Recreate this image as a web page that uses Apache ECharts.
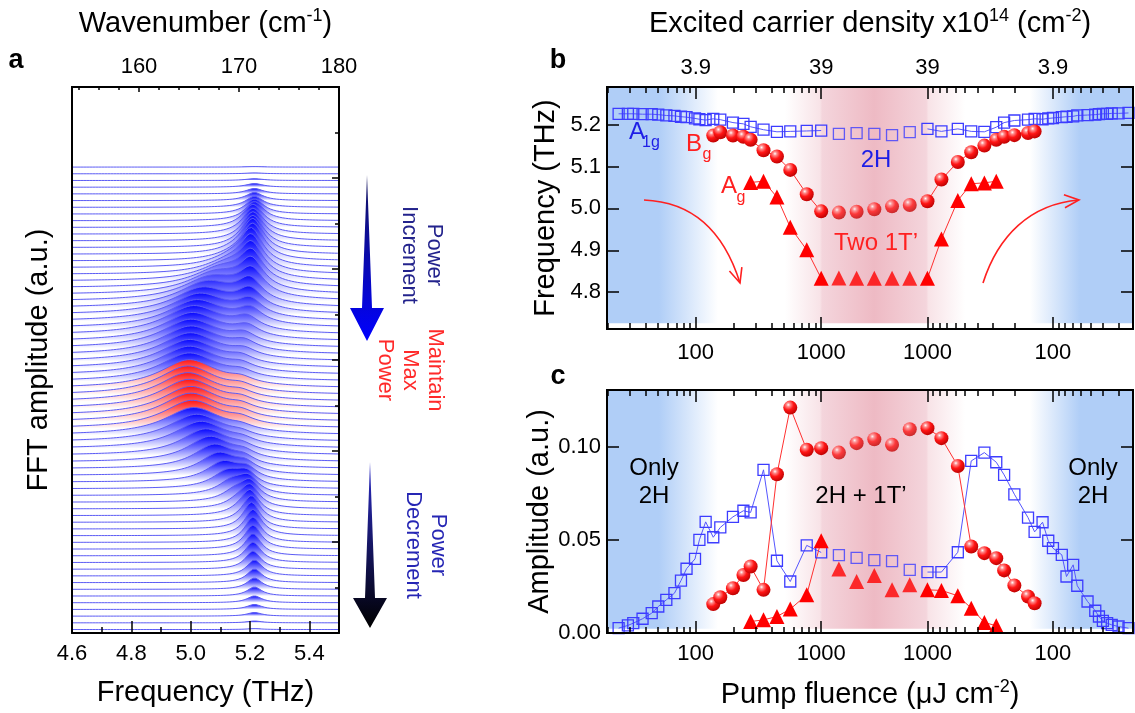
<!DOCTYPE html>
<html>
<head>
<meta charset="utf-8">
<script src="https://cdn.jsdelivr.net/npm/echarts@6/dist/echarts.min.js"></script>
<style>
  html, body { margin: 0; padding: 0; background: #fff; }
  #chart { width: 1135px; height: 713px; }
</style>
</head>
<body>
<div id="chart"></div>
<script>
// ---------- panel a: waterfall, one entry per trace (top trace first) ----------
// A1g (2H) peak
const a1gCenter = [5.215,5.215,5.215,5.215,5.215,5.215,5.215,5.215,5.215,5.21,5.21,5.21,5.21,5.21,5.21,5.205,5.205,5.205,5.205,5.205,5.205,5.2,5.2,5.2,5.2,5.19,5.19,5.18,5.18,5.18,5.17,5.17,5.17,
  5.17,5.17,5.17,5.17,5.17,5.17,5.17,
  5.17,5.17,5.175,5.175,5.18,5.18,5.185,5.19,5.19,5.195,5.2,5.2,5.2,5.205,5.205,5.21,5.21,5.21,5.21,5.21,5.21,5.215,5.215,5.215,5.215,5.215,5.215,5.215,5.215,5.215]
const a1gAmp = [0.01,0.02,0.04,0.08,0.12,0.18,0.24,0.33,0.42,0.51,0.57,0.64,0.68,0.73,0.75,0.75,0.73,0.70,0.66,0.62,0.55,0.48,0.42,0.35,0.31,0.26,0.22,0.20,0.18,0.15,0.14,0.13,0.12,
  0.11,0.11,0.11,0.11,0.11,0.11,0.11,
  0.08,0.08,0.09,0.10,0.12,0.14,0.17,0.21,0.26,0.32,0.40,0.47,0.53,0.57,0.59,0.58,0.56,0.53,0.49,0.45,0.40,0.35,0.30,0.25,0.20,0.15,0.11,0.08,0.04,0.02]
const a1gWidth = [0.035,0.035,0.035,0.035,0.035,0.035,0.037,0.038,0.04,0.042,0.044,0.045,0.045,0.045,0.045,0.046,0.046,0.047,0.048,0.048,0.05,0.05,0.05,0.05,0.05,0.05,0.05,0.05,0.05,0.05,0.05,0.05,0.05,
  0.05,0.05,0.05,0.05,0.05,0.05,0.05,
  0.048,0.047,0.046,0.045,0.044,0.043,0.042,0.041,0.04,0.04,0.039,0.038,0.037,0.036,0.035,0.035,0.034,0.034,0.033,0.033,0.032,0.032,0.031,0.031,0.03,0.03,0.03,0.03,0.03,0.03]
// Bg (1T') peak
const bgCenter = [5.17,5.17,5.17,5.17,5.17,5.17,5.17,5.17,5.17,5.17,5.17,5.17,5.17,5.16,5.15,5.14,5.13,5.115,5.10,5.085,5.07,5.055,5.04,5.03,5.02,5.01,5.005,5.0,5.0,4.998,4.996,4.995,4.995,
  4.995,4.99,4.99,4.995,5.0,5.0,5.005,
  5.01,5.02,5.035,5.05,5.065,5.08,5.095,5.11,5.125,5.14,5.15,5.16,5.165,5.17,5.17,5.17,5.17,5.17,5.17,5.17,5.17,5.17,5.17,5.17,5.17,5.17,5.17,5.17,5.17,5.17]
const bgAmp = [0,0,0,0,0,0,0,0,0,0,0,0,0.04,0.09,0.13,0.20,0.26,0.33,0.40,0.46,0.51,0.55,0.57,0.59,0.60,0.62,0.62,0.62,0.62,0.62,0.62,0.62,0.62,
  0.62,0.63,0.63,0.63,0.62,0.62,0.61,
  0.60,0.60,0.59,0.57,0.55,0.52,0.48,0.43,0.37,0.30,0.22,0.14,0.07,0.03,0,0,0,0,0,0,0,0,0,0,0,0,0,0,0,0]
const bgWidth = [0.06,0.06,0.06,0.06,0.06,0.06,0.06,0.06,0.06,0.06,0.06,0.06,0.06,0.07,0.08,0.09,0.10,0.105,0.11,0.115,0.12,0.12,0.12,0.12,0.12,0.12,0.12,0.12,0.12,0.12,0.12,0.12,0.12,
  0.12,0.12,0.12,0.12,0.12,0.12,0.12,
  0.12,0.115,0.11,0.10,0.092,0.085,0.078,0.07,0.064,0.058,0.053,0.05,0.05,0.05,0.05,0.05,0.05,0.05,0.05,0.05,0.05,0.05,0.05,0.05,0.05,0.05,0.05,0.05,0.05,0.05]
const holdTraces = [33, 34, 35, 36, 37, 38, 39]   // "maintain max power", drawn red
const TRACE_TOP = 10.24   // offset of the first trace (a.u.)
const TRACE_STEP = 0.1473 // waterfall offset between traces

// ---------- panels b, c: measurements ----------
const upFluence = [24.3, 28.8, 31.8, 37.7, 44.6, 50.3, 58.3, 67.7, 76.3, 84.5, 98.7, 107, 120, 138, 157, 198, 240, 274, 347, 444, 567, 767]
const holdSteps = [0, 1, 2, 3, 4, 5, 6]
const downFluence = [774, 573, 448, 352, 283, 245, 203, 158, 140, 121, 109, 100, 85, 78, 69, 64, 53, 46, 43, 40, 37, 34, 30, 25]

// frequency (THz)
const a1gFreqUp = [5.226,5.226,5.226,5.225,5.225,5.224,5.222,5.221,5.219,5.218,5.215,5.213,5.211,5.214,5.212,5.205,5.202,5.195,5.188,5.183,5.184,5.185]
const a1gFreqHold = [5.186,5.178,5.180,5.178,5.175,5.182,5.190]
const a1gFreqDown = [5.184,5.190,5.184,5.183,5.194,5.205,5.210,5.212,5.214,5.213,5.215,5.216,5.218,5.219,5.220,5.222,5.223,5.224,5.225,5.226,5.226,5.227,5.227,5.228]
const bgFreqUp = [5.174,5.182,5.174,5.171,5.164,5.139,5.124,5.092,5.034]
const bgFreqHold = [4.993,4.990,4.992,4.998,5.005,5.008,5.017]
const bgFreqDown = [5.069,5.111,5.134,5.150,5.164,5.171,5.175,5.180,5.184]
const agFreqUp = [5.062,5.065,5.027,4.955,4.901]
const agFreqHold = [4.833,4.834,4.833,4.833,4.833,4.833,4.833]
const agFreqDown = [4.927,5.019,5.059,5.061,5.065]

// amplitude (a.u.)
const a1gAmpUp = [0.0023,0.0038,0.005,0.0074,0.0104,0.014,0.0176,0.0212,0.028,0.0344,0.0397,0.05,0.0597,0.0514,0.0567,0.0624,0.0657,0.0648,0.0878,0.0387,0.0275,0.047]
const a1gAmpHold = [0.0432,0.0417,0.0403,0.039,0.0385,0.0338,0.0326]
const a1gAmpDown = [0.0326,0.0433,0.0926,0.0971,0.0919,0.0851,0.0746,0.062,0.0543,0.0595,0.0495,0.0455,0.0419,0.0302,0.0365,0.0252,0.0167,0.0117,0.0086,0.0063,0.005,0.0041,0.0032,0.0023]
const bgAmpUp = [0.0153,0.019,0.0239,0.031,0.0356,0.023,0.0854,0.1214,0.0986]
const bgAmpHold = [0.0995,0.0971,0.1022,0.1043,0.1013,0.1097,0.1103]
const bgAmpDown = [0.1049,0.0899,0.0464,0.0428,0.0401,0.0335,0.0254,0.0194,0.0158]
const agAmpUp = [0.0059,0.0068,0.0086,0.0126,0.0203]
const agAmpHold = [0.0495,0.0342,0.0275,0.0308,0.023,0.0257,0.023]
const agAmpDown = [0.0227,0.0198,0.0131,0.0054,0.0036]

const fluenceLabels = ['100', '1000', '1000', '100']
const densityLabels = ['3.9', '39', '39', '3.9']

// ---------- folded fluence axis: up ramp (log) | hold | down ramp (log, reversed) ----------
const HOLD_SPAN = 0.847
const U_MIN = 1.293
const U_MAX = 5.485
const xUp = upFluence.map(f => Math.log10(f))
const xHold = holdSteps.map(k => 3 + k * HOLD_SPAN / (holdSteps.length - 1))
const xDown = downFluence.map(f => 6 + HOLD_SPAN - Math.log10(f))

const majorU = [2, 3, 3 + HOLD_SPAN, 4 + HOLD_SPAN]
const minorU = []
for (const d of [1, 2]) {
  for (let k = 2; k <= 9; k++) {
    const l = Math.log10(k * Math.pow(10, d))
    if (l >= U_MIN) minorU.push(l)
    const r = 6 + HOLD_SPAN - l
    if (r <= U_MAX) minorU.push(r)
  }
}
const pickLabel = (labels) => (v) => {
  let best = 0
  majorU.forEach((m, i) => { if (Math.abs(m - v) < Math.abs(majorU[best] - v)) best = i })
  return labels[best]
}

// ---------- panel a sampling ----------
const freqGrid = []
for (let i = 0; i <= 180; i++) freqGrid.push(+(4.6 + i * 0.005).toFixed(3))
const lorentz = (f, c, a, w) => a / (1 + ((f - c) / w) * ((f - c) / w))

const FONT = 'Liberation Sans'
const BLACK = '#000'

const blueStops = [
  { offset: 0, color: 'rgb(5,5,255)' },
  { offset: 0.45, color: 'rgb(115,115,255)' },
  { offset: 1, color: 'rgb(255,255,255)' }
]
const redStops = [
  { offset: 0, color: 'rgb(255,20,20)' },
  { offset: 0.45, color: 'rgb(255,135,135)' },
  { offset: 1, color: 'rgb(255,255,255)' }
]

const traceSeries = a1gAmp.map((_, i) => {
  const base = TRACE_TOP - i * TRACE_STEP
  const red = holdTraces.includes(i)
  return {
    type: 'line', xAxisIndex: 0, yAxisIndex: 0, silent: true, symbol: 'none', z: 2,
    data: freqGrid.map(f => [f, base
      + lorentz(f, a1gCenter[i], a1gAmp[i], a1gWidth[i])
      + lorentz(f, bgCenter[i], bgAmp[i], bgWidth[i])]),
    lineStyle: { color: '#5c5cf4', width: 1 },
    areaStyle: { origin: base, opacity: 1, color: new echarts.graphic.LinearGradient(0, 0, 0, 1, red ? redStops : blueStops) }
  }
})

// ---------- panel b / c marker series ----------
const sphere = new echarts.graphic.RadialGradient(0.36, 0.3, 0.75, [
  { offset: 0, color: '#ffffff' },
  { offset: 0.18, color: '#ff8a8a' },
  { offset: 0.5, color: '#ff1515' },
  { offset: 1, color: '#b80000' }
])
const styles = {
  a1g: { symbol: 'rect', symbolSize: 11, itemStyle: { color: 'rgba(255,255,255,0)', borderColor: '#3c3cff', borderWidth: 1.3 }, lineStyle: { color: '#5555ff', width: 1 } },
  bg: { symbol: 'circle', symbolSize: 14, itemStyle: { color: sphere }, lineStyle: { color: '#ff3030', width: 1 } },
  ag: { symbol: 'triangle', symbolSize: 15, itemStyle: { color: '#ff0000' }, lineStyle: { color: '#ff3030', width: 1 } }
}

function measurementSeries(style, upVals, holdVals, downVals, xi, yi) {
  const ux = xUp.slice(xUp.length - upVals.length)
  const dx = xDown.slice(0, downVals.length)
  const common = Object.assign({ xAxisIndex: xi, yAxisIndex: yi, silent: true, z: 4, showAllSymbol: true }, style)
  return [
    Object.assign({ type: 'line', data: ux.map((x, i) => [x, upVals[i]]).concat([[xHold[0], holdVals[0]]]) }, common),
    Object.assign({ type: 'scatter', data: xHold.slice(1, -1).map((x, i) => [x, holdVals[i + 1]]) }, common),
    Object.assign({ type: 'line', data: [[xHold[6], holdVals[6]]].concat(dx.map((x, i) => [x, downVals[i]])) }, common)
  ]
}

const bgGradient = () => new echarts.graphic.LinearGradient(0, 0, 1, 0, [
  { offset: 0, color: 'rgb(176,206,247)' },
  { offset: 0.099, color: 'rgb(176,206,247)' },
  { offset: 0.211, color: 'rgb(255,255,255)' },
  { offset: 0.338, color: 'rgb(255,255,255)' },
  { offset: 0.405, color: 'rgb(248,227,231)' },
  { offset: 0.409, color: 'rgb(244,213,220)' },
  { offset: 0.508, color: 'rgb(238,186,196)' },
  { offset: 0.607, color: 'rgb(244,213,220)' },
  { offset: 0.611, color: 'rgb(248,227,231)' },
  { offset: 0.681, color: 'rgb(255,255,255)' },
  { offset: 0.804, color: 'rgb(255,255,255)' },
  { offset: 0.899, color: 'rgb(176,206,247)' },
  { offset: 1, color: 'rgb(176,206,247)' }
])
function backgroundSeries(xi, yi, y0, y1) {
  return {
    type: 'line', xAxisIndex: xi, yAxisIndex: yi, silent: true, z: 1, symbol: 'none',
    data: [[U_MIN, y0]], lineStyle: { width: 0 },
    markArea: { silent: true, itemStyle: { color: bgGradient(), opacity: 1 }, data: [[{ coord: [U_MIN, y0] }, { coord: [U_MAX, y1] }]] }
  }
}

// ---------- axes ----------
function axis(extra) {
  return Object.assign({
    type: 'value', z: 10,
    axisLine: { show: true, onZero: false, lineStyle: { color: BLACK, width: 2 } },
    axisTick: { show: false },
    axisLabel: { show: false },
    splitLine: { show: false }
  }, extra)
}
const tick = (len, values) => ({ show: true, inside: true, length: len, customValues: values, lineStyle: { color: BLACK, width: 1.5 } })
const label = (values, formatter, margin) => ({ show: true, customValues: values, formatter, margin, fontSize: 22, color: BLACK, fontFamily: FONT })
const nameStyle = (rich) => ({ fontSize: 29, color: BLACK, fontFamily: FONT, rich })
const supRich = {
  n: { fontSize: 29, fontFamily: FONT, color: BLACK, lineHeight: 34 },
  s: { fontSize: 18, fontFamily: FONT, color: BLACK, lineHeight: 34, verticalAlign: 'top', padding: [0, 0, 12, 0] }
}

const wnMajor = [160, 170, 180]
const wnMinor = [154, 156, 158, 162, 164, 166, 168, 172, 174, 176, 178]

const xAxes = [
  // 0: panel a bottom (frequency)
  axis({ gridIndex: 0, position: 'bottom', min: 4.6, max: 5.5, interval: 0.2,
    axisTick: { show: true, inside: true, length: 12, lineStyle: { color: BLACK, width: 1.5 } },
    minorTick: { show: true, splitNumber: 2, length: 6, lineStyle: { color: BLACK, width: 1.5 } },
    axisLabel: { show: true, margin: 10, fontSize: 22, color: BLACK, fontFamily: FONT, formatter: v => v.toFixed(1) },
    name: 'Frequency (THz)', nameLocation: 'middle', nameGap: 45, nameTextStyle: nameStyle() }),
  // 1: panel a top (wavenumber) major
  axis({ gridIndex: 0, position: 'top', min: 153.3, max: 180,
    axisTick: tick(5, wnMajor), axisLabel: label(wnMajor, v => String(Math.round(v)), 9),
    name: '{n|Wavenumber (cm}{s|-1}{n|)}', nameLocation: 'middle', nameGap: 46, nameTextStyle: nameStyle(supRich) }),
  // 2: panel a top minor
  axis({ gridIndex: 0, position: 'top', min: 153.3, max: 180, axisTick: tick(3, wnMinor) }),
  // 3, 4: panel b bottom
  axis({ gridIndex: 1, position: 'bottom', min: U_MIN, max: U_MAX, axisTick: tick(12, majorU),
    axisLabel: label(majorU, pickLabel(fluenceLabels), 13) }),
  axis({ gridIndex: 1, position: 'bottom', min: U_MIN, max: U_MAX, axisTick: tick(6, minorU) }),
  // 5, 6: panel b top
  axis({ gridIndex: 1, position: 'top', min: U_MIN, max: U_MAX, axisTick: tick(12, majorU),
    axisLabel: label(majorU, pickLabel(densityLabels), 8),
    name: '{n|Excited carrier density x10}{s|14}{n| (cm}{s|-2}{n|)}', nameLocation: 'middle', nameGap: 46, nameTextStyle: nameStyle(supRich) }),
  axis({ gridIndex: 1, position: 'top', min: U_MIN, max: U_MAX, axisTick: tick(6, minorU) }),
  // 7, 8: panel c bottom
  axis({ gridIndex: 2, position: 'bottom', min: U_MIN, max: U_MAX, axisTick: tick(12, majorU),
    axisLabel: label(majorU, pickLabel(fluenceLabels), 10),
    name: '{n|Pump fluence (μJ cm}{s|-2}{n|)}', nameLocation: 'middle', nameGap: 45, nameTextStyle: nameStyle(supRich) }),
  axis({ gridIndex: 2, position: 'bottom', min: U_MIN, max: U_MAX, axisTick: tick(6, minorU) }),
  // 9, 10: panel c top
  axis({ gridIndex: 2, position: 'top', min: U_MIN, max: U_MAX, axisTick: tick(12, majorU) }),
  axis({ gridIndex: 2, position: 'top', min: U_MIN, max: U_MAX, axisTick: tick(6, minorU) })
]

const bFreqTicks = [4.8, 4.9, 5.0, 5.1, 5.2]
const cAmpTicks = [0, 0.05, 0.1]
const yAxes = [
  // 0, 1: panel a
  axis({ gridIndex: 0, position: 'left', min: 0, max: 12,
    name: 'FFT amplitude (a.u.)', nameLocation: 'middle', nameGap: 19, nameTextStyle: nameStyle() }),
  axis({ gridIndex: 0, position: 'right', min: 0, max: 12, interval: 2,
    axisTick: { show: true, inside: true, length: 7, lineStyle: { color: BLACK, width: 1.5 } },
    minorTick: { show: true, splitNumber: 2, length: 4, lineStyle: { color: BLACK, width: 1.5 } } }),
  // 2, 3: panel b
  axis({ gridIndex: 1, position: 'left', min: 4.712, max: 5.29, axisTick: tick(12, bFreqTicks),
    axisLabel: label(bFreqTicks, v => v.toFixed(1), 6),
    name: 'Frequency (THz)', nameLocation: 'middle', nameGap: 47, nameTextStyle: nameStyle() }),
  axis({ gridIndex: 1, position: 'right', min: 4.712, max: 5.29, axisTick: tick(12, bFreqTicks) }),
  // 4, 5: panel c
  axis({ gridIndex: 2, position: 'left', min: -0.0003, max: 0.1309, axisTick: tick(12, cAmpTicks),
    axisLabel: label(cAmpTicks, v => v.toFixed(2), 6),
    name: 'Amplitude (a.u.)', nameLocation: 'middle', nameGap: 47, nameTextStyle: nameStyle() }),
  axis({ gridIndex: 2, position: 'right', min: -0.0003, max: 0.1309, axisTick: tick(12, cAmpTicks) })
]

// ---------- annotations ----------
const RED = '#ff2020'
const BLUE = '#1e1ee6'
function text(str, x, y, size, color, bold) {
  const font = `${bold ? 'bold ' : ''}${size}px "${FONT}"`
  return {
    type: 'text', x, y, z: 20, silent: true,
    style: { text: str, fill: color, font, fontSize: size, fontFamily: FONT, fontWeight: bold ? 'bold' : 'normal',
      align: 'center', verticalAlign: 'middle', textAlign: 'center', textVerticalAlign: 'middle' }
  }
}
function sideText(str, x, y, color) {
  const t = text(str, x, y, 22, color)
  t.rotation = -Math.PI / 2
  t.style.lineHeight = 25
  return t
}
function arrowHead(tip, from, len, ang) {
  const a = Math.atan2(from[1] - tip[1], from[0] - tip[0])
  return [[tip[0] + len * Math.cos(a + ang), tip[1] + len * Math.sin(a + ang)], tip,
          [tip[0] + len * Math.cos(a - ang), tip[1] + len * Math.sin(a - ang)]]
}
function curvedArrow(p0, p1, p2, p3) {
  return [
    { type: 'bezierCurve', z: 20, silent: true,
      shape: { x1: p0[0], y1: p0[1], cpx1: p1[0], cpy1: p1[1], cpx2: p2[0], cpy2: p2[1], x2: p3[0], y2: p3[1] },
      style: { stroke: RED, lineWidth: 1.6, fill: null } },
    { type: 'polyline', z: 20, silent: true, shape: { points: arrowHead(p3, p2, 16, 0.42) },
      style: { stroke: RED, lineWidth: 1.6, fill: null } }
  ]
}
function taperArrow(x, yTip, yHead, yEnd, top, bottom) {
  return { type: 'polygon', z: 20, silent: true,
    shape: { points: [[x, yTip], [x + 5, yHead], [x + 17, yHead], [x, yEnd], [x - 17, yHead], [x - 5, yHead]] },
    style: { fill: new echarts.graphic.LinearGradient(0, 0, 0, 1, [{ offset: 0, color: top }, { offset: 1, color: bottom }]) } }
}

const graphics = [
  text('a', 16, 61, 27, BLACK, true),
  text('b', 558, 61, 27, BLACK, true),
  text('c', 558, 377, 27, BLACK, true),
  // panel a side
  taperArrow(367, 175, 308, 341, '#14145a', '#0000ff'),
  taperArrow(370, 462, 598, 628, '#2c2cc8', '#000000'),
  sideText('Power\nIncrement', 422, 255, '#23238c'),
  sideText('Maintain\nMax\nPower', 410, 370, '#ff2a2a'),
  sideText('Power\nDecrement', 426, 545, '#2626b4'),
  // panel b
  text('A', 637, 132, 24, BLUE), text('1g', 651, 143, 16, BLUE),
  text('B', 694, 144, 24, RED), text('g', 707, 155, 16, RED),
  text('A', 729, 186, 24, RED), text('g', 741, 198, 16, RED),
  text('2H', 876, 160, 24, BLUE),
  text('Two 1T\u2019', 876, 243, 24, RED),
  ...curvedArrow([644, 200], [695, 202], [725, 235], [740, 283]),
  ...curvedArrow([983, 283], [998, 236], [1030, 204], [1079, 200]),
  // panel c
  text('Only', 654, 468, 24, BLACK), text('2H', 654, 496, 24, BLACK),
  text('Only', 1093, 468, 24, BLACK), text('2H', 1093, 496, 24, BLACK),
  text('2H + 1T\u2019', 861, 496, 24, BLACK)
]

// ---------- chart ----------
const chart = echarts.init(document.getElementById('chart'))
chart.setOption({
  animation: false,
  textStyle: { fontFamily: FONT },
  grid: [
    { left: 72, top: 87, width: 267, height: 546 },
    { left: 607, top: 87, width: 526, height: 242 },
    { left: 607, top: 390, width: 526, height: 243 }
  ],
  xAxis: xAxes,
  yAxis: yAxes,
  series: [
    ...traceSeries,
    backgroundSeries(3, 2, 4.726, 5.29),
    ...measurementSeries(styles.a1g, a1gFreqUp, a1gFreqHold, a1gFreqDown, 3, 2),
    ...measurementSeries(styles.bg, bgFreqUp, bgFreqHold, bgFreqDown, 3, 2),
    ...measurementSeries(styles.ag, agFreqUp, agFreqHold, agFreqDown, 3, 2),
    backgroundSeries(7, 4, 0.002, 0.1309),
    ...measurementSeries(styles.a1g, a1gAmpUp, a1gAmpHold, a1gAmpDown, 7, 4),
    ...measurementSeries(styles.bg, bgAmpUp, bgAmpHold, bgAmpDown, 7, 4),
    ...measurementSeries(styles.ag, agAmpUp, agAmpHold, agAmpDown, 7, 4)
  ],
  graphic: graphics
})
</script>
</body>
</html>
